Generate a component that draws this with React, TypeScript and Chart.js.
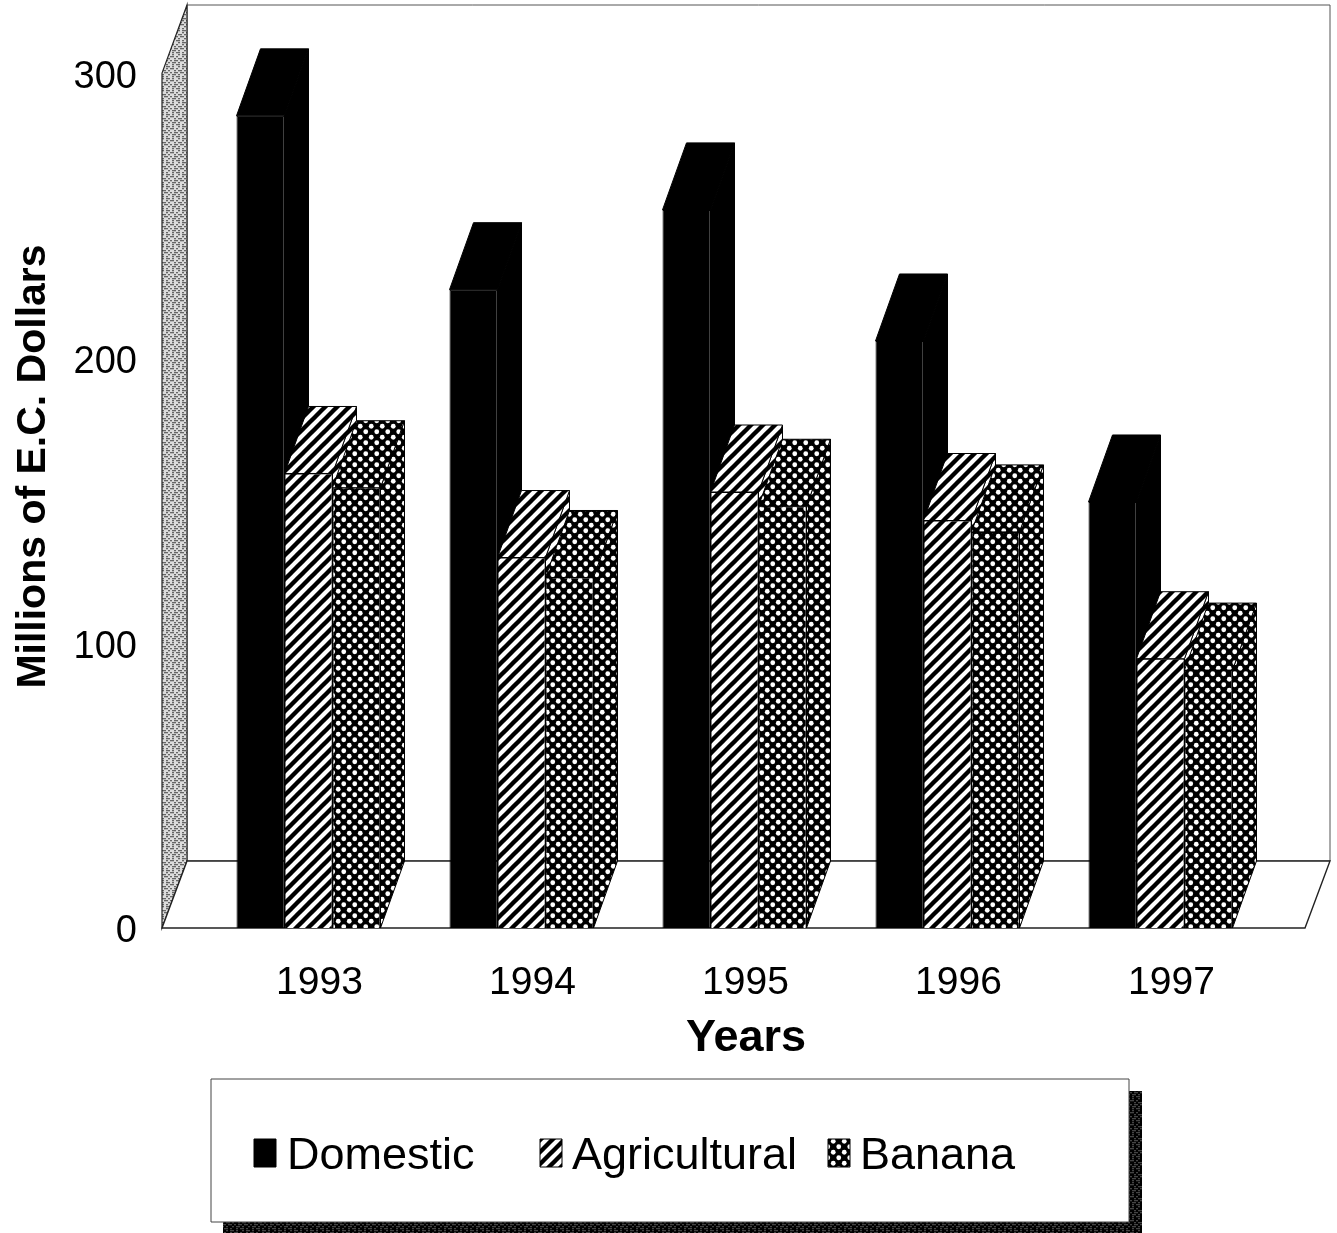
import React, { useEffect, useRef } from "react";
import { Chart, registerables } from "chart.js";

Chart.register(...registerables);

const years = ["1993", "1994", "1995", "1996", "1997"];
const domestic = [285, 224, 252, 206, 149.5];
const agricultural = [159.5, 130, 153, 143, 94.5];
const banana = [154.5, 123, 148, 139, 90.5];
const yTicks = [0, 100, 200, 300];

const FONT = '"Liberation Sans", Arial, sans-serif';
const DX = 24;
const DY = -67;

function tile(w: number, h: number, paint: (c: CanvasRenderingContext2D) => void) {
  const cv = document.createElement("canvas");
  cv.width = w;
  cv.height = h;
  paint(cv.getContext("2d") as CanvasRenderingContext2D);
  return cv;
}

function stripes(ctx: CanvasRenderingContext2D) {
  const t = tile(12, 12, (c) => {
    c.fillStyle = "#fff";
    c.fillRect(0, 0, 12, 12);
    c.strokeStyle = "#000";
    c.lineWidth = 4.4;
    for (const o of [-12, 0, 12]) {
      c.beginPath();
      c.moveTo(o - 2, 14);
      c.lineTo(o + 14, -2);
      c.stroke();
    }
  });
  return ctx.createPattern(t, "repeat") as CanvasPattern;
}

function dots(ctx: CanvasRenderingContext2D) {
  const t = tile(11, 11, (c) => {
    c.fillStyle = "#000";
    c.fillRect(0, 0, 11, 11);
    c.fillStyle = "#fff";
    for (const [x, y] of [[2.75, 2.75], [8.25, 8.25]]) {
      c.beginPath();
      c.arc(x, y, 2.4, 0, Math.PI * 2);
      c.fill();
    }
  });
  return ctx.createPattern(t, "repeat") as CanvasPattern;
}

const speckleRows = ["#.##.#.#", ".#..#.##", "##.#..#.", ".#.##.#.", "#..#.##.", ".##.#..#"];

function speckle(ctx: CanvasRenderingContext2D, on: string, off: string) {
  const t = tile(16, 12, (c) => {
    c.fillStyle = off;
    c.fillRect(0, 0, 16, 12);
    c.fillStyle = on;
    speckleRows.forEach((row, r) => {
      [...row].forEach((ch, i) => {
        if (ch === "#") c.fillRect(i * 2, r * 2, 2, 1.3);
      });
    });
  });
  return ctx.createPattern(t, "repeat") as CanvasPattern;
}

function poly(ctx: CanvasRenderingContext2D, pts: number[][], fill: any, stroke = "#000", lw = 1) {
  ctx.beginPath();
  pts.forEach(([x, y], i) => (i ? ctx.lineTo(x, y) : ctx.moveTo(x, y)));
  ctx.closePath();
  if (fill) {
    ctx.fillStyle = fill;
    ctx.fill();
  }
  ctx.strokeStyle = stroke;
  ctx.lineWidth = lw;
  ctx.stroke();
}

const scenery = {
  id: "scenery",
  afterLayout(chart: any) {
    // centre the x title over the reference's position without moving the bars
    chart.scales.x.right += 23;
  },
  beforeDraw(chart: any) {
    const { ctx, width, height, chartArea: a, scales } = chart;
    const L = a.left - 40;
    const R = a.right + 38;
    const floorY = a.bottom;
    const frontTop = scales.y.getPixelForValue(300);
    ctx.save();
    ctx.fillStyle = "#fff";
    ctx.fillRect(0, 0, width, height);
    poly(ctx, [[L + 25, a.top], [R + 25, a.top], [R + 25, floorY + DY], [L + 25, floorY + DY]], "#fff", "#555", 1);
    poly(ctx, [[L, frontTop], [L + 25, a.top], [L + 25, floorY + DY], [L, floorY]], speckle(ctx, "#666", "#dcdcdc"), "#222", 1.2);
    poly(ctx, [[L, floorY], [L + 25, floorY + DY], [R + 25, floorY + DY], [R, floorY]], "#fff", "#222", 1.4);
    ctx.restore();
  },
  beforeDatasetsDraw(chart: any) {
    const { ctx } = chart;
    ctx.save();
    chart.data.datasets.forEach((ds: any, i: number) => {
      chart.getDatasetMeta(i).data.forEach((bar: any) => {
        const half = bar.width / 2;
        const l = bar.x - half;
        const r = bar.x + half;
        const t = bar.y;
        const b = bar.base;
        poly(ctx, [[r, t], [r + DX, t + DY], [r + DX, b + DY], [r, b]], ds.backgroundColor);
        poly(ctx, [[l, t], [l + DX, t + DY], [r + DX, t + DY], [r, t]], ds.backgroundColor);
      });
    });
    ctx.restore();
  },
  afterDraw(chart: any) {
    const { ctx } = chart;
    const box = { x: 211, y: 1079, w: 918, h: 143 };
    const slots = [
      { sw: 254, tx: 287 },
      { sw: 540, tx: 572 },
      { sw: 828, tx: 860 },
    ];
    ctx.save();
    ctx.fillStyle = speckle(ctx, "#444", "#000");
    ctx.fillRect(box.x + 12, box.y + 12, box.w + 1, box.h);
    poly(ctx, [[box.x, box.y], [box.x + box.w, box.y], [box.x + box.w, box.y + box.h], [box.x, box.y + box.h]], "#fff", "#444", 1);
    ctx.font = `45px ${FONT}`;
    ctx.textBaseline = "middle";
    ctx.textAlign = "left";
    chart.data.datasets.forEach((ds: any, i: number) => {
      const s = slots[i];
      poly(ctx, [[s.sw, 1139], [s.sw + 22, 1139], [s.sw + 22, 1167], [s.sw, 1167]], ds.backgroundColor);
      ctx.fillStyle = "#000";
      ctx.fillText(ds.label, s.tx, 1157);
    });
    ctx.restore();
  },
};

const noMargins = (s: any) => {
  s.paddingTop = 0;
  s.paddingBottom = 0;
  s.paddingLeft = 0;
  s.paddingRight = 0;
};

export default function App() {
  const ref = useRef<HTMLCanvasElement>(null);
  useEffect(() => {
    const canvas = ref.current as HTMLCanvasElement;
    const ctx = canvas.getContext("2d") as CanvasRenderingContext2D;
    const mk = (label: string, data: number[], fill: any) => ({
      label,
      data,
      backgroundColor: fill,
      borderColor: "#000",
      borderWidth: 1,
      categoryPercentage: 0.676,
      barPercentage: 1,
    });
    const chart = new Chart(canvas, {
      type: "bar",
      data: {
        labels: years,
        datasets: [
          mk("Domestic", domestic, "#000"),
          mk("Agricultural", agricultural, stripes(ctx)),
          mk("Banana", banana, dots(ctx)),
        ],
      },
      plugins: [scenery],
      options: {
        animation: false,
        responsive: false,
        devicePixelRatio: 1,
        layout: { autoPadding: false, padding: { top: 5, right: 70, left: 0, bottom: 0 } },
        plugins: { legend: { display: false }, tooltip: { enabled: false } },
        scales: {
          x: {
            grid: { display: false },
            border: { display: false },
            afterFit: (s: any) => {
              s.height = 305;
              noMargins(s);
            },
            ticks: {
              autoSkip: false,
              maxRotation: 0,
              padding: 24,
              labelOffset: 11,
              color: "#000",
              font: { family: FONT, size: 39 },
            },
            title: {
              display: true,
              text: "Years",
              color: "#000",
              font: { family: FONT, size: 45, weight: "bold" },
              padding: { top: 0, bottom: 167 },
            },
          },
          y: {
            min: 0,
            max: 323.9,
            grid: { display: false },
            border: { display: false },
            afterFit: (s: any) => {
              s.width = 202;
              noMargins(s);
            },
            afterBuildTicks: (s: any) => {
              s.ticks = yTicks.map((value) => ({ value }));
            },
            ticks: {
              includeBounds: false,
              padding: 57,
              labelOffset: 4,
              color: "#000",
              font: { family: FONT, size: 38 },
            },
            title: {
              display: true,
              text: "Millions of E.C. Dollars",
              color: "#000",
              font: { family: FONT, size: 41, weight: "bold" },
              padding: { top: 9, bottom: 0 },
            },
          },
        },
      },
    } as any);
    return () => chart.destroy();
  }, []);
  return (
    <div style={{ position: "absolute", left: 0, top: 0, width: 1337, height: 1233, background: "#fff" }}>
      <canvas ref={ref} width={1337} height={1233} style={{ display: "block" }} />
    </div>
  );
}
